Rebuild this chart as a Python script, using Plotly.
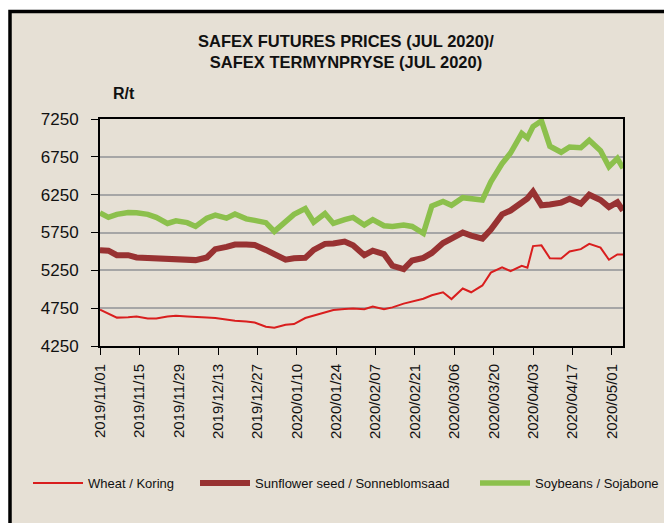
import plotly.graph_objects as go

dates = ["2019-11-01","2019-11-04","2019-11-07","2019-11-11","2019-11-14","2019-11-18","2019-11-21",
         "2019-11-25","2019-11-28","2019-12-02","2019-12-05","2019-12-09","2019-12-12","2019-12-16",
         "2019-12-19","2019-12-23","2019-12-26","2019-12-30","2020-01-02","2020-01-06","2020-01-09",
         "2020-01-13","2020-01-16","2020-01-20","2020-01-23","2020-01-27","2020-01-30","2020-02-03",
         "2020-02-06","2020-02-10","2020-02-13","2020-02-17","2020-02-20","2020-02-24","2020-02-27",
         "2020-03-02","2020-03-05","2020-03-09","2020-03-12","2020-03-16","2020-03-19","2020-03-23",
         "2020-03-26","2020-03-30","2020-04-01","2020-04-03","2020-04-06","2020-04-09","2020-04-13",
         "2020-04-16","2020-04-20","2020-04-23","2020-04-27","2020-04-30","2020-05-03","2020-05-05"]

wheat = [4730,4680,4625,4630,4640,4615,4615,4640,4650,4640,4630,4625,4620,4600,4585,4575,4560,4505,
         4490,4530,4540,4620,4650,4700,4725,4740,4745,4735,4770,4735,4760,4810,4835,4875,4920,4960,
         4870,5010,4960,5050,5220,5290,5240,5310,5285,5570,5580,5410,5405,5500,5530,5600,5550,5390,
         5460,5460]

sunflower = [5515,5510,5450,5450,5420,5415,5415,5410,5405,5400,5385,5420,5530,5560,5590,5590,5585,
             5520,5470,5390,5410,5415,5520,5600,5605,5630,5580,5450,5510,5465,5310,5265,5380,5415,
             5480,5610,5670,5750,5710,5670,5790,5990,6040,6160,6200,6290,6110,6120,6145,6195,6130,
             6250,6180,6085,6150,6040]

soybeans = [6010,5950,5990,6015,6010,5990,5950,5870,5905,5880,5830,5940,5980,5940,5995,5930,5910,
            5880,5765,5900,5990,6065,5885,6000,5870,5920,5950,5850,5920,5840,5830,5850,5830,5740,
            6100,6160,6110,6210,6200,6180,6420,6660,6800,7060,7000,7150,7225,6890,6810,6880,6870,
            6970,6830,6620,6730,6600]

series_names = ["Wheat / Koring", "Sunflower seed / Sonneblomsaad", "Soybeans / Sojabone"]
y_ticks = [4250, 4750, 5250, 5750, 6250, 6750, 7250]

FONT = "Liberation Sans, Arial, sans-serif"
BG = "#e6e0d5"
OFF = 8  # page body margin

W, H = 672 - OFF, 523 - OFF
L, T = 100 - OFF, 119 - OFF
pw = 623 - 100
ph = 346 - 119
R = W - L - pw
B = H - T - ph


def px(page_x):
    return (page_x - OFF - L) / pw


def py(page_y):
    return 1 - (page_y - OFF - T) / ph


fig = go.Figure()
fig.add_trace(go.Scatter(x=dates, y=wheat, name=series_names[0], mode="lines",
                         line=dict(color="#d91e1e", width=2), legend="legend"))
fig.add_trace(go.Scatter(x=dates, y=sunflower, name=series_names[1], mode="lines",
                         line=dict(color="#983232", width=6), legend="legend2"))
fig.add_trace(go.Scatter(x=dates, y=soybeans, name=series_names[2], mode="lines",
                         line=dict(color="#8cc04c", width=5.5), legend="legend3"))

fig.add_shape(type="rect", xref="paper", yref="paper", layer="below",
              x0=px(10), x1=px(720), y0=py(580), y1=py(11.5),
              fillcolor=BG, line=dict(color="black", width=3.5))

fig.add_annotation(text="<b>R/t</b>", xref="paper", yref="paper",
                   x=px(124), y=py(93), xanchor="center", yanchor="middle", showarrow=False,
                   font=dict(family=FONT, size=16, color="#111"))

leg_common = dict(orientation="h", xanchor="left", yanchor="middle", y=py(483),
                  bgcolor="rgba(0,0,0,0)", font=dict(family=FONT, size=13, color="#111"),
                  itemwidth=50)

fig.update_layout(
    width=W, height=H,
    margin=dict(l=L, r=R, t=T, b=B, autoexpand=False),
    paper_bgcolor="white",
    plot_bgcolor="rgba(0,0,0,0)",
    title=dict(text="<b>SAFEX FUTURES PRICES (JUL 2020)/<br>SAFEX TERMYNPRYSE (JUL 2020)</b>",
               x=(346 - OFF) / W, xanchor="center", xref="container",
               y=1 - (47 - OFF) / H, yanchor="top", yref="container",
               font=dict(family=FONT, size=16.5, color="#111")),
    font=dict(family=FONT, color="#111"),
    showlegend=True,
    legend=dict(x=px(32 - 4), **leg_common),
    legend2=dict(x=px(199 - 4), **leg_common),
    legend3=dict(x=px(479 - 4), **leg_common),
)

fig.update_xaxes(type="date", range=["2019-11-01", "2020-05-05"],
                 tick0="2019-11-01", dtick=14 * 86400000, tickformat="%Y/%m/%d",
                 tickangle=-90, ticks="outside", ticklen=7, tickcolor="black",
                 showline=True, linecolor="black", linewidth=2, mirror=True,
                 showgrid=False, zeroline=False, ticklabelstandoff=3,
                 tickfont=dict(family=FONT, size=15, color="#111"))
fig.update_yaxes(range=[4250, 7250], tickvals=y_ticks,
                 ticks="outside", ticklen=7, tickcolor="black",
                 showline=True, linecolor="black", linewidth=2, mirror=True,
                 showgrid=True, gridcolor="#a6a6a6", gridwidth=1.5, zeroline=False,
                 ticklabelstandoff=9,
                 tickfont=dict(family=FONT, size=17, color="#111"))

fig.write_html("out.html")
